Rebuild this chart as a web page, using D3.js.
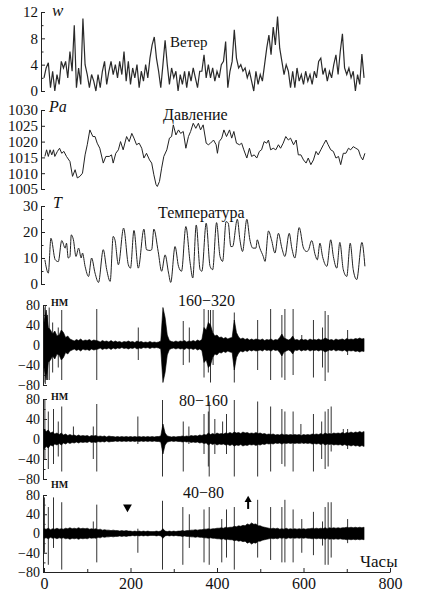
<!DOCTYPE html>
<html><head><meta charset="utf-8">
<script src="https://cdn.jsdelivr.net/npm/d3@7"></script>
<style>
body{margin:0;background:#fff}
svg{display:block}
text{font-family:"Liberation Serif","DejaVu Serif",serif;fill:#111}
</style>
</head><body><svg id="c" width="425" height="600"></svg>
<script>
// ---------- DATA ----------
const xTicks = [0, 200, 400, 600, 800];
const xMinorTicks = [100, 300, 500, 700];

// wind speed, one reading every 5 hours starting at hour 0
const windStepHours = 5;
const windValues = [2,3.5,4.3,0.5,3,0,2.5,1,4.5,3.5,4.5,2,6,3,10,0.5,3.5,1,11,4,
  2.5,0.5,2.5,1.5,0,2.5,0.5,3,4.5,1,3,4.5,2.5,4,2,4.5,2.5,6,1.5,4.5,
  1,3.5,2,4,0.5,3,1.5,4,2,5,7,8.2,5,3,0.5,4,7.7,4,1,3.5,
  2,3,0,2.5,1,3,0.5,3,1.5,3.5,2,0.5,3,3,5.5,2,4,2,3.5,1.5,
  3,2,4,4.5,7.5,0.5,3,4.5,9.3,5,3.5,4,3,3.5,2,3,1.5,0,3,1,
  2.5,1.5,4,6.5,8.5,5.5,9.7,7,11.3,6.5,4.5,2.5,4,3,0.5,3,0.5,3.5,1.5,2.5,
  1,3,1.5,2.5,1,3,2,4.5,5,2.5,3.5,1.5,3,2,4,5.5,2.5,6,8.7,3.5,
  2.5,3.5,2,3,0,2.5,1,5.6,2];
const windTicks = [0, 4, 8, 12];
const windMinor = [2, 6, 10];

// pressure [hour, hPa]
const pressureSeries = [[2,1015.3],[6,1017.4],[10,1015.3],[14,1017.4],[18,1015.8],[22,1017.4],[25,1015.3],[31,1016.9],[36,1017.9],[41,1016.3],[46,1016.9],[52,1015.3],[60,1013.7],[66,1009],[72,1011.1],[77,1008.5],[83,1009],[89,1010],[95,1015.8],[100,1019],[106,1023.7],[113,1021.6],[118,1021.6],[123,1019.5],[129,1017.9],[137,1013.2],[143,1015.3],[151,1015.3],[156,1015.8],[160,1013.2],[166,1016.3],[172,1017.4],[177,1020],[183,1017.4],[191,1021.6],[197,1020],[203,1022.6],[208,1021.1],[214,1019],[220,1019.5],[226,1017.9],[231,1014.8],[237,1016.3],[244,1014.2],[249,1013.2],[254,1009.5],[259,1006.4],[262,1005.8],[267,1007.4],[272,1011.6],[277,1015.3],[284,1017.4],[290,1021.1],[295,1021.6],[299,1025.3],[305,1022.1],[311,1023.7],[316,1022.6],[322,1023.2],[328,1017.9],[334,1021.6],[339,1023.2],[345,1025.8],[351,1024.2],[357,1025.8],[362,1023.7],[368,1025.3],[375,1019.5],[380,1019],[385,1019.5],[392,1020.5],[398,1019],[401,1016.3],[405,1020],[411,1021.1],[416,1023.7],[422,1021.6],[429,1023.7],[434,1021.1],[439,1023.2],[445,1019.5],[452,1019],[457,1019.5],[462,1017.4],[469,1014.8],[475,1017.9],[480,1015.3],[486,1015.8],[492,1014.8],[498,1016.9],[503,1017.4],[509,1020],[515,1019.5],[519,1020.5],[524,1017.4],[530,1017.9],[536,1017.4],[542,1019],[547,1017.9],[553,1019.5],[559,1021.6],[565,1020.5],[570,1021.1],[577,1019],[583,1020.5],[588,1015.8],[594,1015.8],[600,1014.2],[606,1013.2],[611,1014.8],[617,1012.7],[623,1014.2],[629,1016.9],[634,1015.8],[640,1017.4],[646,1019],[652,1020.5],[657,1019],[663,1017.4],[669,1016.9],[675,1014.8],[681,1015.3],[686,1012.7],[692,1016.3],[698,1016.3],[704,1017.9],[709,1017.4],[715,1018.4],[721,1017.9],[727,1017.4],[732,1015.3],[737,1014.2],[742,1016.3]];
const pressureTicks = [1005, 1010, 1015, 1020, 1025, 1030];

// temperature [hour, deg C]
const tempSeries = [[2,9.3],[10,4.2],[16,17.6],[26,9.3],[33,8.6],[41,16.7],[49,13.8],[52,15.7],[56,10],[60,10.6],[63,18.9],[68,17],[74,10.6],[80,13.8],[86,10],[89,11.9],[95,6.8],[103,2.9],[110,10],[118,4.2],[126,0.6],[137,13.2],[145,5.5],[153,1],[160,18.3],[164,17],[172,7.4],[184,21.5],[195,7.4],[200,6.1],[208,20.6],[218,6.1],[231,21.1],[237,13.2],[245,12.9],[249,13.2],[254,21.1],[264,12.5],[272,4.9],[280,11.2],[288,4.2],[293,0.6],[303,14.4],[311,6.8],[318,4.9],[328,22.1],[338,8],[344,2.3],[352,22.7],[361,5.5],[365,4.9],[375,23.4],[384,6.8],[390,5.5],[399,23.6],[407,10.6],[413,8.7],[421,24],[426,23.4],[432,14.4],[436,14.4],[447,24.9],[453,17],[459,12.5],[469,24.9],[476,17],[483,13.8],[490,13.8],[493,17],[499,13.8],[507,10.6],[511,8.7],[519,20.4],[526,17],[534,11.9],[542,19.5],[550,13.8],[557,10.6],[567,19.5],[573,13.8],[580,10],[590,21.7],[600,13.8],[607,12.5],[611,12.9],[619,16.7],[627,11.2],[632,9.3],[638,15.7],[644,10.6],[654,6.8],[663,17],[669,10.6],[677,6.1],[684,16],[692,5.5],[700,2.9],[708,15.7],[715,5.5],[723,1.7],[735,16],[742,6.8]];
const tempTicks = [0, 10, 20, 30];
const tempMinor = [5, 15, 25];

// seismic noise bands: amplitude (nm) every 5 hours, and spikes [hour, top, bottom]
const nmTicks = [-80, -40, 0, 40, 80];
const nmMinor = [-60, -20, 20, 60];
const bandStepHours = 5;

const amp160 = [45,70,35,30,22,28,18,20,30,25, 15,18,12,10,8,11,9,12,8,10,
  9,11,8,10,9,8,6,9,7,8, 6,9,6,8,6,7,5,7,6,8, 6,7,5,8,6,7,5,6,5,7,
  5,6,5,6,8,75,55,20,9,7, 6,8,6,8,7,9,6,8,7,9, 7,10,8,11,35,30,45,40,25,18,
  20,15,16,13,15,12,14,15,50,25, 16,12,14,11,13,10,12,10,12,11, 10,12,9,11,10,12,9,11,10,15,
  22,14,12,10,12,18,10,11,9,12, 10,11,9,12,10,11,10,12,10,11, 14,12,10,11,9,12,10,11,12,10,
  13,11,12,11,13,12,14,12,13];
const spikes160 = [[0,75,-75],[3,78,-78],[8,60,-70],[12,75,-70],[20,45,-55],[33,35,-45],[41,70,-70],[122,72,-70],[218,35,-30],[322,48,-40],[336,35,-35],[370,72,-65],[380,70,-55],[385,70,-75],[391,70,-40],[440,65,-75],[494,50,-50],[524,72,-70],[550,60,-65],[557,72,-70],[576,72,-60],[596,20,-10],[623,50,-65],[644,35,-45],[650,68,-72],[657,60,-55],[702,30,-20]];

const amp80 = [20,15,18,12,14,10,12,9,12,8, 10,7,9,7,8,6,8,6,7,6,
  7,5,7,6,7,5,6,5,6,4, 6,5,5,4,5,4,5,4,5,4, 5,4,5,4,5,4,5,4,5,4,
  5,4,5,5,6,30,12,6,5,4, 5,4,5,5,6,5,6,5,7,6, 7,6,8,7,9,8,12,9,11,9,
  12,10,11,10,12,11,13,11,14,12, 13,11,14,12,13,11,12,11,13,11, 12,10,11,9,10,9,10,8,9,8,
  10,8,9,8,9,8,9,8,9,7, 9,8,9,8,10,9,10,9,11,9, 12,10,11,10,12,11,12,11,13,11,
  13,12,14,12,14,13,15,13,15];
const spikes80 = [[2,80,-40],[10,55,-60],[22,60,-50],[33,35,-35],[41,65,-65],[68,25,-5],[114,25,-40],[122,70,-65],[217,45,-10],[274,78,-75],[322,35,-65],[335,25,-10],[370,50,-30],[380,55,-55],[382,75,-75],[395,40,-30],[413,35,-10],[422,50,-30],[440,78,-75],[494,75,-75],[524,65,-65],[550,60,-50],[557,55,-55],[576,55,-65],[594,30,-10],[623,50,-65],[642,35,-40],[650,55,-60],[657,60,-55],[664,65,-25],[692,20,-10],[702,20,-20]];

const amp40 = [10,9,11,8,10,9,11,9,10,9, 11,10,12,10,11,10,12,10,11,10,
  11,9,10,9,10,8,9,7,8,7, 7,6,7,6,6,5,6,5,6,5, 5,4,5,4,5,4,5,4,5,4,
  4,4,5,4,5,10,5,4,5,4, 5,4,5,5,6,5,6,6,7,7, 8,7,8,8,9,9,10,9,10,10,
  11,11,12,11,13,12,13,13,15,14, 16,15,17,16,20,18,22,19,20,16, 16,14,13,12,11,10,11,10,11,9,
  10,9,11,9,10,9,10,9,10,9, 10,9,10,10,11,10,11,10,11,10, 12,10,12,11,12,11,12,11,12,12,
  13,12,13,12,13,12,13,12,13];
const spikes40 = [[1,75,-40],[10,55,-65],[22,75,-30],[41,65,-75],[114,25,-10],[122,60,-60],[217,10,-40],[274,68,-75],[321,55,-65],[336,40,-30],[370,50,-60],[382,55,-65],[411,30,-60],[422,50,-50],[440,55,-75],[494,70,-50],[524,55,-55],[550,55,-60],[557,70,-60],[576,50,-60],[596,30,-40],[623,45,-45],[644,25,-25],[650,55,-65],[657,65,-65],[664,65,-50],[702,30,-20]];

// markers in the last panel [hour, nm]
const triangleMark = [193, 55];
const arrowMark = [472, 51, 74];

// ---------- DRAW ----------
const svg = d3.select('#c');
const x = d3.scaleLinear().domain([0, 800]).range([44, 390]);

function yAxis(y, major, minor, ax, fs) {
  const g = svg.append('g').attr('transform', `translate(${ax},0)`);
  g.call(d3.axisLeft(y).tickValues(major).tickSizeInner(-4).tickSizeOuter(0).tickPadding(3).tickFormat(d3.format('d')));
  if (minor) g.call(gg => gg.append('g').call(d3.axisLeft(y).tickValues(minor).tickSizeInner(-2.5).tickSizeOuter(0).tickFormat('')).select('.domain').remove());
  g.attr('font-size', null).attr('font-family', null);
  g.selectAll('text').style('font-size', (fs || 15) + 'px');
  g.selectAll('path,line').attr('stroke', '#222');
  return g;
}

function label(txt, xx, yy, size, opts) {
  const t = svg.append('text').attr('x', xx).attr('y', yy).style('font-size', size + 'px').text(txt);
  if (opts && opts.italic) t.style('font-style', 'italic');
  if (opts && opts.bold) t.style('font-weight', 'bold');
  if (opts && opts.smallcaps) t.style('font-variant', 'small-caps');
  return t;
}

// wind
const yW = d3.scaleLinear().domain([0, 12]).range([91, 12]);
yAxis(yW, windTicks, windMinor, 41);
svg.append('path')
  .datum(windValues)
  .attr('fill', 'none').attr('stroke', '#2a2a2a').attr('stroke-width', 1.2)
  .attr('d', d3.line().x((d, i) => x(i * windStepHours)).y(d => yW(d)));
label('w', 52, 16, 17, {italic: true});
label('Ветер', 170, 47, 15);

// pressure
const yP = d3.scaleLinear().domain([1005, 1030]).range([189, 110]);
yAxis(yP, pressureTicks, null, 41);
svg.append('path').datum(pressureSeries)
  .attr('fill', 'none').attr('stroke', '#222').attr('stroke-width', 1)
  .attr('d', d3.line().x(d => x(d[0])).y(d => yP(d[1])));
label('Pa', 49, 112, 16, {italic: true});
label('Давление', 163, 120, 16);

// temperature
const yT = d3.scaleLinear().domain([0, 30]).range([284, 206]);
yAxis(yT, tempTicks, tempMinor, 41);
svg.append('path').datum(tempSeries)
  .attr('fill', 'none').attr('stroke', '#222').attr('stroke-width', 1)
  .attr('d', d3.line().curve(d3.curveMonotoneX).x(d => x(d[0])).y(d => yT(d[1])));
label('T', 53, 208, 16, {italic: true});
label('Температура', 158, 218, 16);

// seismic panels
const seis = [
  {amp: amp160, spikes: spikes160, range: [385, 305], title: '160−320', tx: 178, ty: 306, ny: 306},
  {amp: amp80, spikes: spikes80, range: [479, 399], title: '80−160', tx: 179, ty: 406, ny: 400},
  {amp: amp40, spikes: spikes40, range: [572, 495], title: '40−80', tx: 183, ty: 498, ny: 488}
];
seis.forEach(p => {
  const y = d3.scaleLinear().domain([-80, 80]).range(p.range);
  p.y = y;
  yAxis(y, nmTicks, nmMinor, 43, 14);
  svg.append('g').selectAll('line').data(p.spikes).join('line')
    .attr('x1', d => x(d[0])).attr('x2', d => x(d[0]))
    .attr('y1', d => y(d[1])).attr('y2', d => y(d[2]))
    .attr('stroke', '#333').attr('stroke-width', 1);
  svg.append('path').datum(p.amp)
    .attr('fill', '#000').attr('stroke', '#000').attr('stroke-width', 0.6)
    .attr('d', d3.area().x((d, i) => x(i * bandStepHours)).y0(d => y(-d)).y1(d => y(d)));
  label('нм', 51, p.ny, 14, {bold: true, smallcaps: true});
  label(p.title, p.tx, p.ty, 16);
});

// x axis at bottom
const yb = seis[2].y(-80);
const gx = svg.append('g').attr('transform', `translate(0,${yb})`);
gx.call(d3.axisBottom(x).tickValues(xTicks).tickSizeInner(-4).tickSizeOuter(0).tickPadding(6).tickFormat(d3.format('d')));
gx.append('g').call(d3.axisBottom(x).tickValues(xMinorTicks).tickSizeInner(-3).tickSizeOuter(0).tickFormat('')).select('.domain').remove();
gx.attr('font-size', null).attr('font-family', null);
gx.selectAll('text').style('font-size', '16px');
gx.selectAll('path,line').attr('stroke', '#222');
label('Часы', 360, 567, 17);

// markers
const y3 = seis[2].y;
svg.append('path')
  .attr('d', d3.symbol(d3.symbolTriangle, 34)())
  .attr('transform', `translate(${x(triangleMark[0])},${y3(triangleMark[1])}) rotate(180)`)
  .attr('fill', '#000');
svg.append('line')
  .attr('x1', x(arrowMark[0])).attr('x2', x(arrowMark[0]))
  .attr('y1', y3(arrowMark[1])).attr('y2', y3(arrowMark[2]) + 3)
  .attr('stroke', '#000').attr('stroke-width', 2);
svg.append('path')
  .attr('d', d3.symbol(d3.symbolTriangle, 22)())
  .attr('transform', `translate(${x(arrowMark[0])},${y3(arrowMark[2]) + 2})`)
  .attr('fill', '#000');
</script>
</body></html>
